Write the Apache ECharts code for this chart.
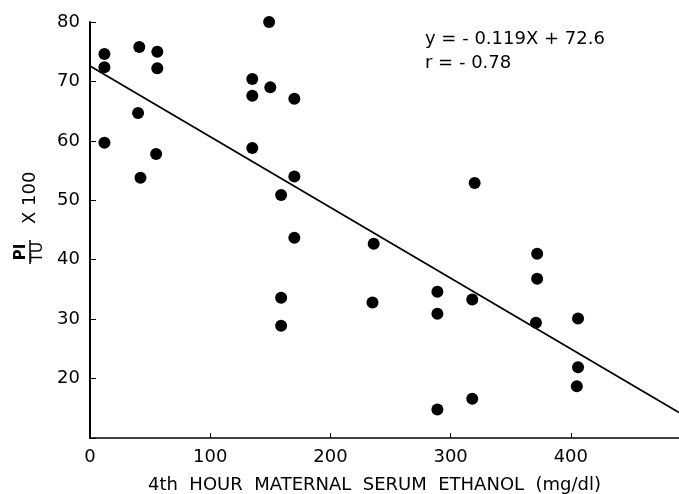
<!DOCTYPE html>
<html>
<head>
<meta charset="utf-8">
<script src="https://cdn.jsdelivr.net/npm/echarts@6/dist/echarts.min.js"></script>
<style>
  html, body { margin: 0; padding: 0; background: #fff; }
  #chart { width: 679px; height: 494px; }
</style>
</head>
<body>
<div id="chart"></div>
<script>
// serum ethanol (mg/dl) and PI/TU x 100
const ethanol = [12, 12, 12, 41, 56, 56, 40, 55, 42,
  149, 135, 135, 150, 170, 135, 170, 159, 170, 236, 320,
  159, 159, 235, 289, 289, 318, 289, 318,
  372, 372, 371, 406, 406, 405];
const ratio = [74.6, 72.4, 59.7, 75.8, 75.0, 72.2, 64.7, 57.8, 53.8,
  80.0, 70.4, 67.6, 69.0, 67.1, 58.8, 54.0, 50.9, 43.7, 42.7, 52.9,
  33.6, 28.9, 32.8, 34.6, 30.9, 33.3, 14.8, 16.6,
  41.0, 36.8, 29.4, 30.1, 21.9, 18.7];

// regression line ends: y = -0.119x + 72.6
const fitLine = [[0, 72.6], [490, 14.3]];

const xTicks = [0, 100, 200, 300, 400];
const yTicks = [20, 30, 40, 50, 60, 70, 80];

const points = ethanol.map((x, i) => [x, ratio[i]]);
const FONT = 'DejaVu Sans';
const INK = '#000';

const chart = echarts.init(document.getElementById('chart'), null, { renderer: 'canvas' });

chart.setOption({
  backgroundColor: '#fff',
  animation: false,
  grid: { left: 90, right: 0, top: 22, bottom: 56 },
  xAxis: {
    type: 'value',
    min: 0,
    max: 490,
    interval: 100,
    splitLine: { show: false },
    axisLine: { lineStyle: { color: INK, width: 1.5 } },
    axisTick: { inside: true, length: 5, lineStyle: { color: INK } },
    axisLabel: {
      showMaxLabel: false,
      margin: 10,
      fontFamily: FONT, fontSize: 18, color: INK,
      formatter: v => (xTicks.includes(v) ? String(v) : '')
    }
  },
  yAxis: {
    type: 'value',
    min: 10,
    max: 80,
    interval: 10,
    splitLine: { show: false },
    axisLine: { lineStyle: { color: INK, width: 2 } },
    axisTick: { inside: true, length: 6, lineStyle: { color: INK } },
    axisLabel: {
      margin: 10,
      fontFamily: FONT, fontSize: 18, color: INK,
      formatter: v => (yTicks.includes(v) ? String(v) : '')
    }
  },
  graphic: [
    {
      type: 'text', left: 425, top: 30,
      style: { text: 'y = - 0.119X + 72.6', fontFamily: FONT, fontSize: 18, fill: INK }
    },
    {
      type: 'text', left: 425, top: 54,
      style: { text: 'r = - 0.78', fontFamily: FONT, fontSize: 18, fill: INK }
    },
    {
      type: 'text', left: 148, top: 476,
      style: { text: '4th  HOUR  MATERNAL  SERUM  ETHANOL  (mg/dl)', fontFamily: FONT, fontSize: 18, fill: INK }
    },
    {
      type: 'group', x: 30, y: 264, rotation: Math.PI / 2,
      children: [
        { type: 'text', x: 12, y: -1, style: { text: 'PI', fontFamily: FONT, fontSize: 15, fontWeight: 'bold', fill: INK, align: 'center', verticalAlign: 'bottom' } },
        { type: 'line', shape: { x1: 0, y1: 0, x2: 24, y2: 0 }, style: { stroke: INK, lineWidth: 1.5 } },
        { type: 'text', x: 12, y: 1, style: { text: 'TU', fontFamily: FONT, fontSize: 15, fill: INK, align: 'center', verticalAlign: 'top' } },
        { type: 'text', x: 40, y: 0, style: { text: 'X 100', fontFamily: FONT, fontSize: 18, fill: INK, align: 'left', verticalAlign: 'middle' } }
      ]
    }
  ],
  series: [
    {
      type: 'scatter',
      data: points,
      symbol: 'circle',
      symbolSize: 12,
      itemStyle: { color: INK, opacity: 1 }
    },
    {
      type: 'line',
      data: fitLine,
      symbol: 'none',
      lineStyle: { color: INK, width: 1.8 }
    }
  ]
});
</script>
</body>
</html>
